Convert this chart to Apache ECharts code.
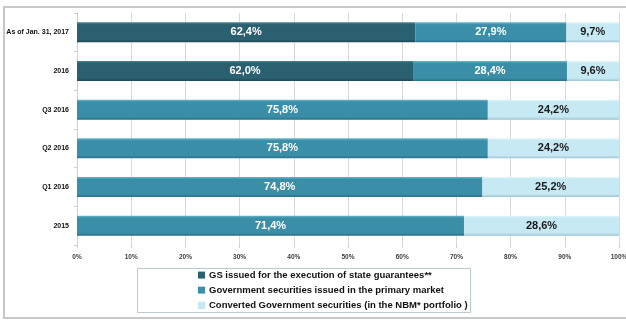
<!DOCTYPE html>
<html>
<head>
<meta charset="utf-8">
<script src="https://cdn.jsdelivr.net/npm/echarts@6/dist/echarts.min.js"></script>
<style>
  html, body { margin: 0; padding: 0; background: #fff; }
  #chart { width: 626px; height: 320px; }
</style>
</head>
<body>
<div id="chart"></div>
<script>
// categories bottom -> top (category y axis starts at the bottom)
const categories = ['2015', 'Q1 2016', 'Q2 2016', 'Q3 2016', '2016', 'As of Jan. 31, 2017']
const seriesNames = [
  'GS issued for the execution of state guarantees**',
  'Government securities issued in the primary market',
  'Converted Government securities (in the NBM* portfolio )'
]
const guarantees = [null, null, null, null, 62.0, 62.4]
const primary = [71.4, 74.8, 75.8, 75.8, 28.4, 27.9]
const converted = [28.6, 25.2, 24.2, 24.2, 9.6, 9.7]
const xTicks = [0, 10, 20, 30, 40, 50, 60, 70, 80, 90, 100]

const font = '"Liberation Sans", Arial, sans-serif'

function barFill(top, main, bottom) {
  return new echarts.graphic.LinearGradient(0, 0, 0, 1, [
    { offset: 0, color: top },
    { offset: 0.12, color: main },
    { offset: 0.86, color: main },
    { offset: 1, color: bottom }
  ])
}

const colors = [
  { main: '#2b6070', top: '#4a8090', bottom: '#1f4854' },
  { main: '#3a8ea8', top: '#6ab6cc', bottom: '#2c6f84' },
  { main: '#c6e9f4', top: '#e2f5fa', bottom: '#9fc4cf' }
]

const fmt = (p) => (typeof p.value === 'number' ? p.value.toFixed(1).replace('.', ',') + '%' : '')

function makeSeries(i, data, labelColor) {
  const c = colors[i]
  return {
    name: seriesNames[i],
    type: 'bar',
    stack: 'total',
    data: data,
    barWidth: 20,
    itemStyle: { color: barFill(c.top, c.main, c.bottom) },
    label: {
      show: true,
      position: 'inside',
      color: labelColor,
      fontFamily: font,
      fontWeight: 'bold',
      fontSize: 11,
      formatter: fmt
    },
    emphasis: { disabled: true }
  }
}

const chart = echarts.init(document.getElementById('chart'), null, { renderer: 'canvas' })

chart.setOption({
  backgroundColor: '#fff',
  animation: false,
  color: colors.map((c) => c.main),
  graphic: [
    {
      type: 'rect',
      silent: true,
      shape: { x: 4, y: 7, width: 660, height: 311 },
      style: { fill: 'none', stroke: '#c8c8c8', lineWidth: 2 }
    },
    {
      type: 'rect',
      silent: true,
      shape: { x: 137.5, y: 268.5, width: 333, height: 44 },
      style: { fill: 'none', stroke: '#b9cbd3', lineWidth: 1 }
    }
  ],
  grid: {
    left: 77,
    right: 7,
    top: 13,
    bottom: 75,
    containLabel: false,
    outerBoundsMode: 'none'
  },
  legend: {
    orient: 'vertical',
    left: 194,
    top: 269,
    padding: [0, 4, 0, 4],
    itemWidth: 7,
    itemHeight: 7,
    itemGap: 3,
    icon: 'rect',
    data: seriesNames,
    textStyle: {
      color: '#111',
      fontFamily: font,
      fontWeight: 'bold',
      fontSize: 9.5,
      lineHeight: 12,
      padding: [0, 0, 0, -1]
    }
  },
  xAxis: {
    type: 'value',
    min: 0,
    max: 100,
    interval: 10,
    axisLine: { show: false },
    axisTick: {
      show: true,
      length: 3,
      lineStyle: { color: '#d0d0d0' }
    },
    splitLine: { lineStyle: { color: '#d9d9d9', width: 1 } },
    axisLabel: {
      color: '#404040',
      fontFamily: font,
      fontWeight: 'bold',
      fontSize: 6.5,
      margin: 9,
      formatter: (v) => (xTicks.includes(v) ? v + '%' : '')
    }
  },
  yAxis: {
    type: 'category',
    data: categories,
    axisLine: { show: true, lineStyle: { color: '#d0d0d0' } },
    axisTick: { show: true, length: 3, lineStyle: { color: '#d0d0d0' } },
    axisLabel: {
      color: '#111',
      fontFamily: font,
      fontWeight: 'bold',
      fontSize: 7,
      margin: 8
    }
  },
  series: [
    makeSeries(0, guarantees, '#fff'),
    makeSeries(1, primary, '#fff'),
    makeSeries(2, converted, '#1a1a1a')
  ]
})
</script>
</body>
</html>
